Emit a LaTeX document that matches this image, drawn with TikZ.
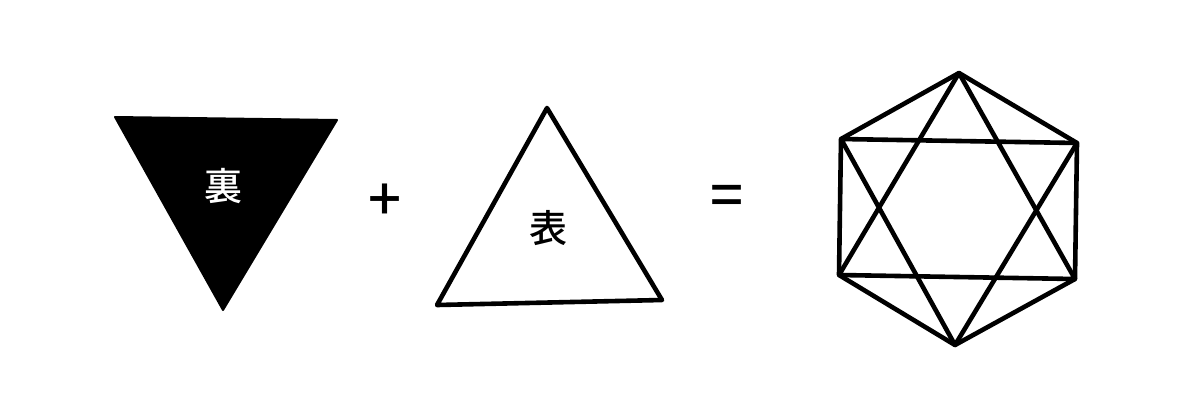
\documentclass[tikz,border=0pt]{standalone}
\usepackage{fontspec}
\newfontfamily\cjk{Noto Sans CJK JP}[UprightFont=* Medium,BoldFont=* Bold]
\begin{document}
\begin{tikzpicture}[x=1pt,y=-1pt,
  edge/.style={line width=4.6pt,line join=round,line cap=round},
  lbl/.style={font=\cjk\fontsize{38}{38}\selectfont,inner sep=0pt},
  op/.style={font=\cjk\fontsize{58}{58}\selectfont,inner sep=0pt}]
\useasboundingbox (0,0) rectangle (1200,400);
% black triangle
\coordinate (b1) at (115,117);
\coordinate (b2) at (337,120);
\coordinate (b3) at (223,310);
\fill[black,edge,draw=black,line width=2pt] (b1) -- (b2) -- (b3) -- cycle;
\node[lbl,text=white] (ura) at (223,186) {裏};
% plus
\node[op] (plus) at (385,202) {+};
% white triangle
\coordinate (w1) at (547,108);
\coordinate (w2) at (662,300);
\coordinate (w3) at (437,305);
\draw[edge] (w1) -- (w2) -- (w3) -- cycle;
\node[lbl] (omote) at (548,228) {表};
% equals
\node[op] (eq) at (727,201) {=};
% hexagram in hexagon
\coordinate (T) at (959,73);
\coordinate (UL) at (841,139);
\coordinate (UR) at (1077,143);
\coordinate (LL) at (839,275);
\coordinate (LR) at (1075,279);
\coordinate (B) at (955,345);
\draw[edge] (T) -- (UR) -- (LR) -- (B) -- (LL) -- (UL) -- cycle;
\draw[edge] (T) -- (LR) -- (LL) -- cycle;
\draw[edge] (B) -- (UL) -- (UR) -- cycle;
\end{tikzpicture}
\end{document}
